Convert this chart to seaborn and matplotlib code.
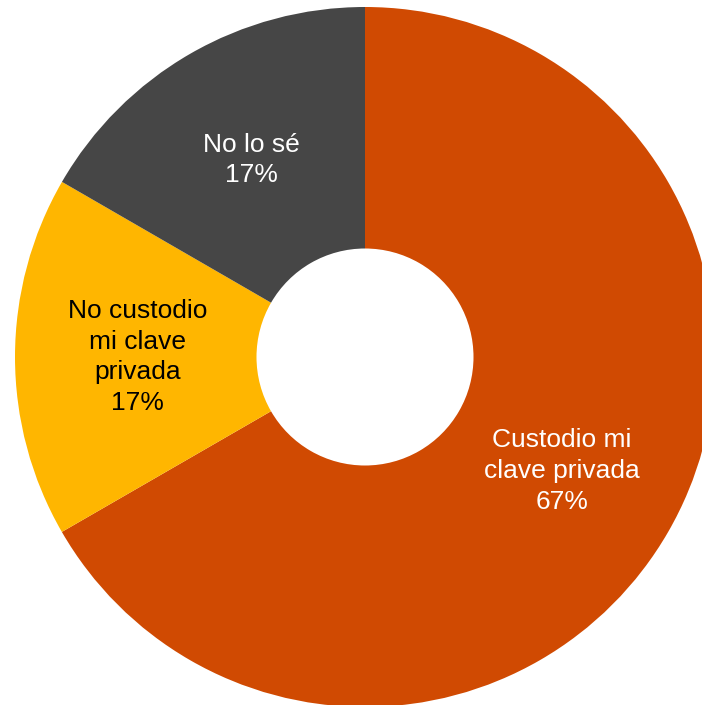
import matplotlib
matplotlib.use("Agg")
import matplotlib.pyplot as plt
import seaborn as sns

categories = ["Custodio mi\nclave privada", "No custodio\nmi clave\nprivada", "No lo sé"]
values = [66.67, 16.67, 16.66]
pct_labels = ["67%", "17%", "17%"]
colors = ["#D04A02", "#FFB600", "#464646"]
text_colors = ["white", "black", "white"]

sns.set_theme(style="white")
plt.rcParams["font.family"] = ["Liberation Sans", "DejaVu Sans"]

W, H = 702, 705
fig = plt.figure(figsize=(W / 100, H / 100), dpi=100)
ax = fig.add_axes([0, 0, 1, 1])

labels = [f"{c}\n{p}" for c, p in zip(categories, pct_labels)]
wedges, texts = ax.pie(
    values,
    labels=labels,
    colors=colors,
    startangle=90,
    counterclock=False,
    radius=1.0,
    labeldistance=0.65,
    wedgeprops=dict(width=0.69, linewidth=0),
    textprops=dict(ha="center", va="center", fontsize=19, linespacing=1.36),
)
for t, c in zip(texts, text_colors):
    t.set_color(c)

# pixel geometry: centre at (365, 357), radius 350 px
R = 350.0
cx, cy = 365.0, 357.0
ax.set_xlim(-cx / R, (W - cx) / R)
ax.set_ylim(-(H - cy) / R, cy / R)
ax.set_aspect("auto")
ax.axis("off")

fig.savefig("out.png", dpi=100, facecolor="white")
